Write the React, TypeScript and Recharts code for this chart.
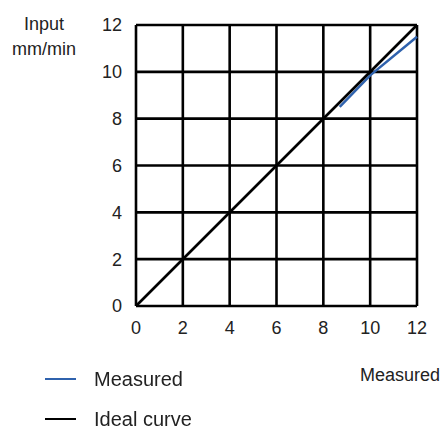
import React from "react";
import { LineChart, Line, XAxis, YAxis, CartesianGrid } from "recharts";

const ticks = [0, 2, 4, 6, 8, 10, 12];
const measuredX = [8.7, 10, 12];
const measuredY = [8.5, 9.85, 11.5];
const idealX = [0, 12];
const idealY = [0, 12];

const measuredData = measuredX.map((x, i) => ({ x, y: measuredY[i] }));
const idealData = idealX.map((x, i) => ({ x, y: idealY[i] }));

const series = [
  { name: "Measured", color: "#2f62ad" },
  { name: "Ideal curve", color: "#000" },
];

const FONT = "'Liberation Sans', Arial, sans-serif";

export default function App() {
  return (
    <div
      style={{
        position: "fixed",
        left: 0,
        top: 0,
        width: 444,
        height: 428,
        background: "#fff",
        fontFamily: FONT,
      }}
    >
      <LineChart
        width={444}
        height={428}
        margin={{ top: 25, right: 27, bottom: 92, left: 96 }}
      >
        <CartesianGrid stroke="#000" strokeWidth={2.6} />
        <XAxis
          type="number"
          dataKey="x"
          domain={[0, 12]}
          ticks={ticks}
          axisLine={false}
          tickLine={false}
          tickSize={0}
          tickMargin={15}
          height={30}
          tick={{ fontSize: 18, fill: "#222", fontFamily: FONT }}
          allowDuplicatedCategory={false}
        />
        <YAxis
          type="number"
          dataKey="y"
          domain={[0, 12]}
          ticks={ticks}
          axisLine={false}
          tickLine={false}
          tickSize={0}
          tickMargin={14}
          width={40}
          tick={{ fontSize: 18, fill: "#222", fontFamily: FONT }}
        />
        <Line
          data={measuredData}
          dataKey="y"
          name={series[0].name}
          stroke={series[0].color}
          strokeWidth={2.5}
          dot={false}
          isAnimationActive={false}
        />
        <Line
          data={idealData}
          dataKey="y"
          name={series[1].name}
          stroke={series[1].color}
          strokeWidth={2.6}
          dot={false}
          isAnimationActive={false}
        />
      </LineChart>
      <div style={{ position: "absolute", left: 45, top: 359, width: 200 }}>
        {series.map((s) => (
          <div key={s.name} style={{ display: "flex", alignItems: "center", height: 40 }}>
            <div style={{ width: 31, height: 2.5, background: s.color, marginRight: 18 }} />
            <span style={{ fontSize: 20, lineHeight: "20px", color: "#222", whiteSpace: "nowrap" }}>
              {s.name}
            </span>
          </div>
        ))}
      </div>
      <div
        style={{
          position: "absolute",
          left: 8,
          top: 12,
          width: 72,
          textAlign: "center",
          fontSize: 18,
          lineHeight: "25px",
          color: "#222",
        }}
      >
        Input
        <br />
        mm/min
      </div>
      <div
        style={{
          position: "absolute",
          left: 360,
          top: 365,
          fontSize: 18,
          color: "#222",
          whiteSpace: "nowrap",
        }}
      >
        Measured
      </div>
    </div>
  );
}
